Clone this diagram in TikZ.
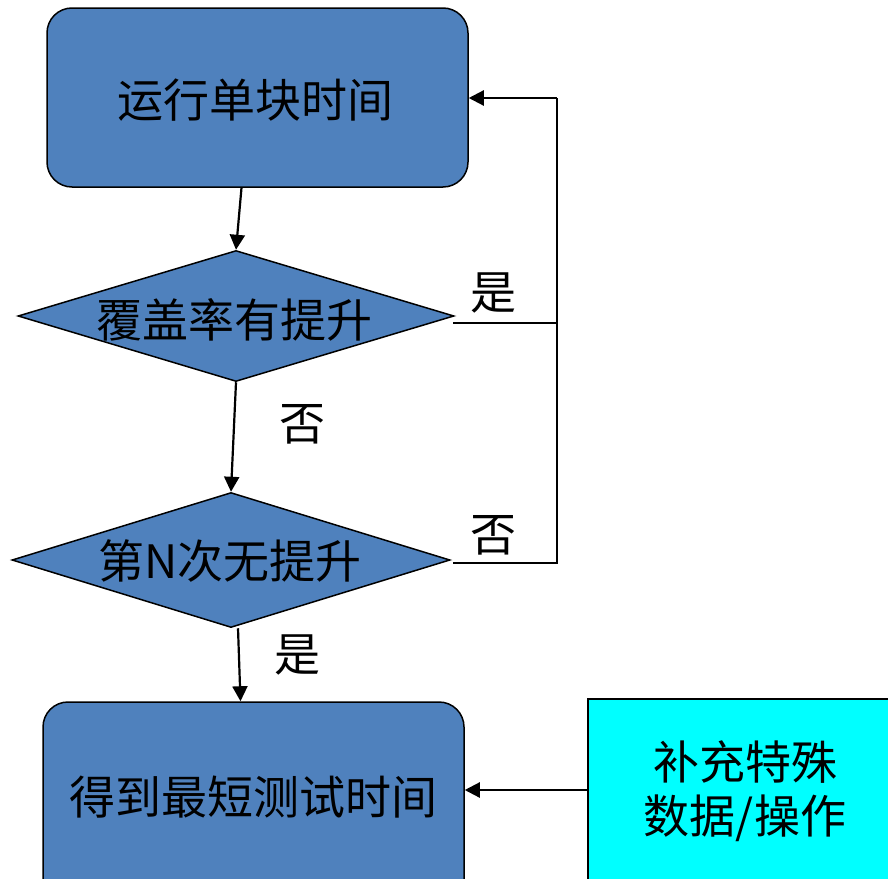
\documentclass[tikz,border=0pt]{standalone}
\usepackage{fontspec}
\newfontfamily\cjk{Noto Sans CJK SC}
\usetikzlibrary{shapes.geometric,arrows.meta}
\definecolor{boxblue}{HTML}{4F81BD}
\definecolor{aqua}{HTML}{00FFFF}
\tikzset{
  roundbox/.style={draw=black, line width=1.5pt, fill=boxblue, rounded corners=25pt, inner sep=0pt},
  plainbox/.style={draw=black, line width=1.5pt, fill=aqua, inner sep=0pt},
  decision/.style={draw=black, line width=1.5pt, fill=boxblue, diamond, inner sep=0pt, shape aspect=3.3},
  conn/.style={draw=black, line width=2.2pt},
  arr/.style={conn, -{Triangle[length=15pt,width=15pt]}},
  txt/.style={inner sep=0pt, align=center},
}
\begin{document}
\begin{tikzpicture}[x=1pt, y=-1pt, font=\cjk\fontsize{46}{54}\selectfont]
  \useasboundingbox (0,0) rectangle (888,878);
  \clip (0,0) rectangle (888,878);

  % start box
  \node[roundbox, minimum width=421pt, minimum height=179pt] (run) at (257.5,97.5) {};
  \node[txt] (runT) at (255,100) {运行单块时间};

  % first decision
  \node[decision, minimum width=436pt, minimum height=131pt] (cov) at (236,316) {};
  \node[txt] (covT) at (234,320) {覆盖率有提升};

  % second decision
  \node[decision, minimum width=438pt, minimum height=135pt] (nth) at (231,560) {};
  \node[txt] (nthT) at (230,561) {第N次无提升};

  % result box (runs past the lower edge)
  \node[roundbox, minimum width=421pt, minimum height=240pt] (res) at (253.5,822) {};
  \node[txt] (resT) at (253,797) {得到最短测试时间};

  % side input box (runs past the right and lower edges)
  \node[plainbox, minimum width=316pt, minimum height=240pt] (sup) at (746,819) {};
  \node[txt] (supT) at (745,791) {补充特殊\\数据/操作};

  % junction points of the feedback loop
  \coordinate (covR) at (453,323);
  \coordinate (nthR) at (453,563);
  \coordinate (j1) at (557,323);
  \coordinate (j2) at (557,563);
  \coordinate (top) at (557,98);

  % main flow
  \draw[arr] ([xshift=-16pt]run.south) -- (cov.north);
  \draw[arr] (cov.south) -- (nth.north);
  \draw[arr] ([xshift=7pt]nth.south) -- ([xshift=-13pt]res.north);

  % feedback loop
  \draw[conn] (covR) -- (j1);
  \draw[conn] (nthR) -- (j2) -- (top);
  \draw[arr] (top) -- (run.east |- top);

  % side input arrow
  \draw[arr] (sup.west |- 0,790) -- (res.east |- 0,790);

  % branch labels
  \node[txt] (yes1) at (493,293) {是};
  \node[txt] (no1) at (302,424) {否};
  \node[txt] (no2) at (493,535) {否};
  \node[txt] (yes2) at (297,655) {是};
\end{tikzpicture}
\end{document}
